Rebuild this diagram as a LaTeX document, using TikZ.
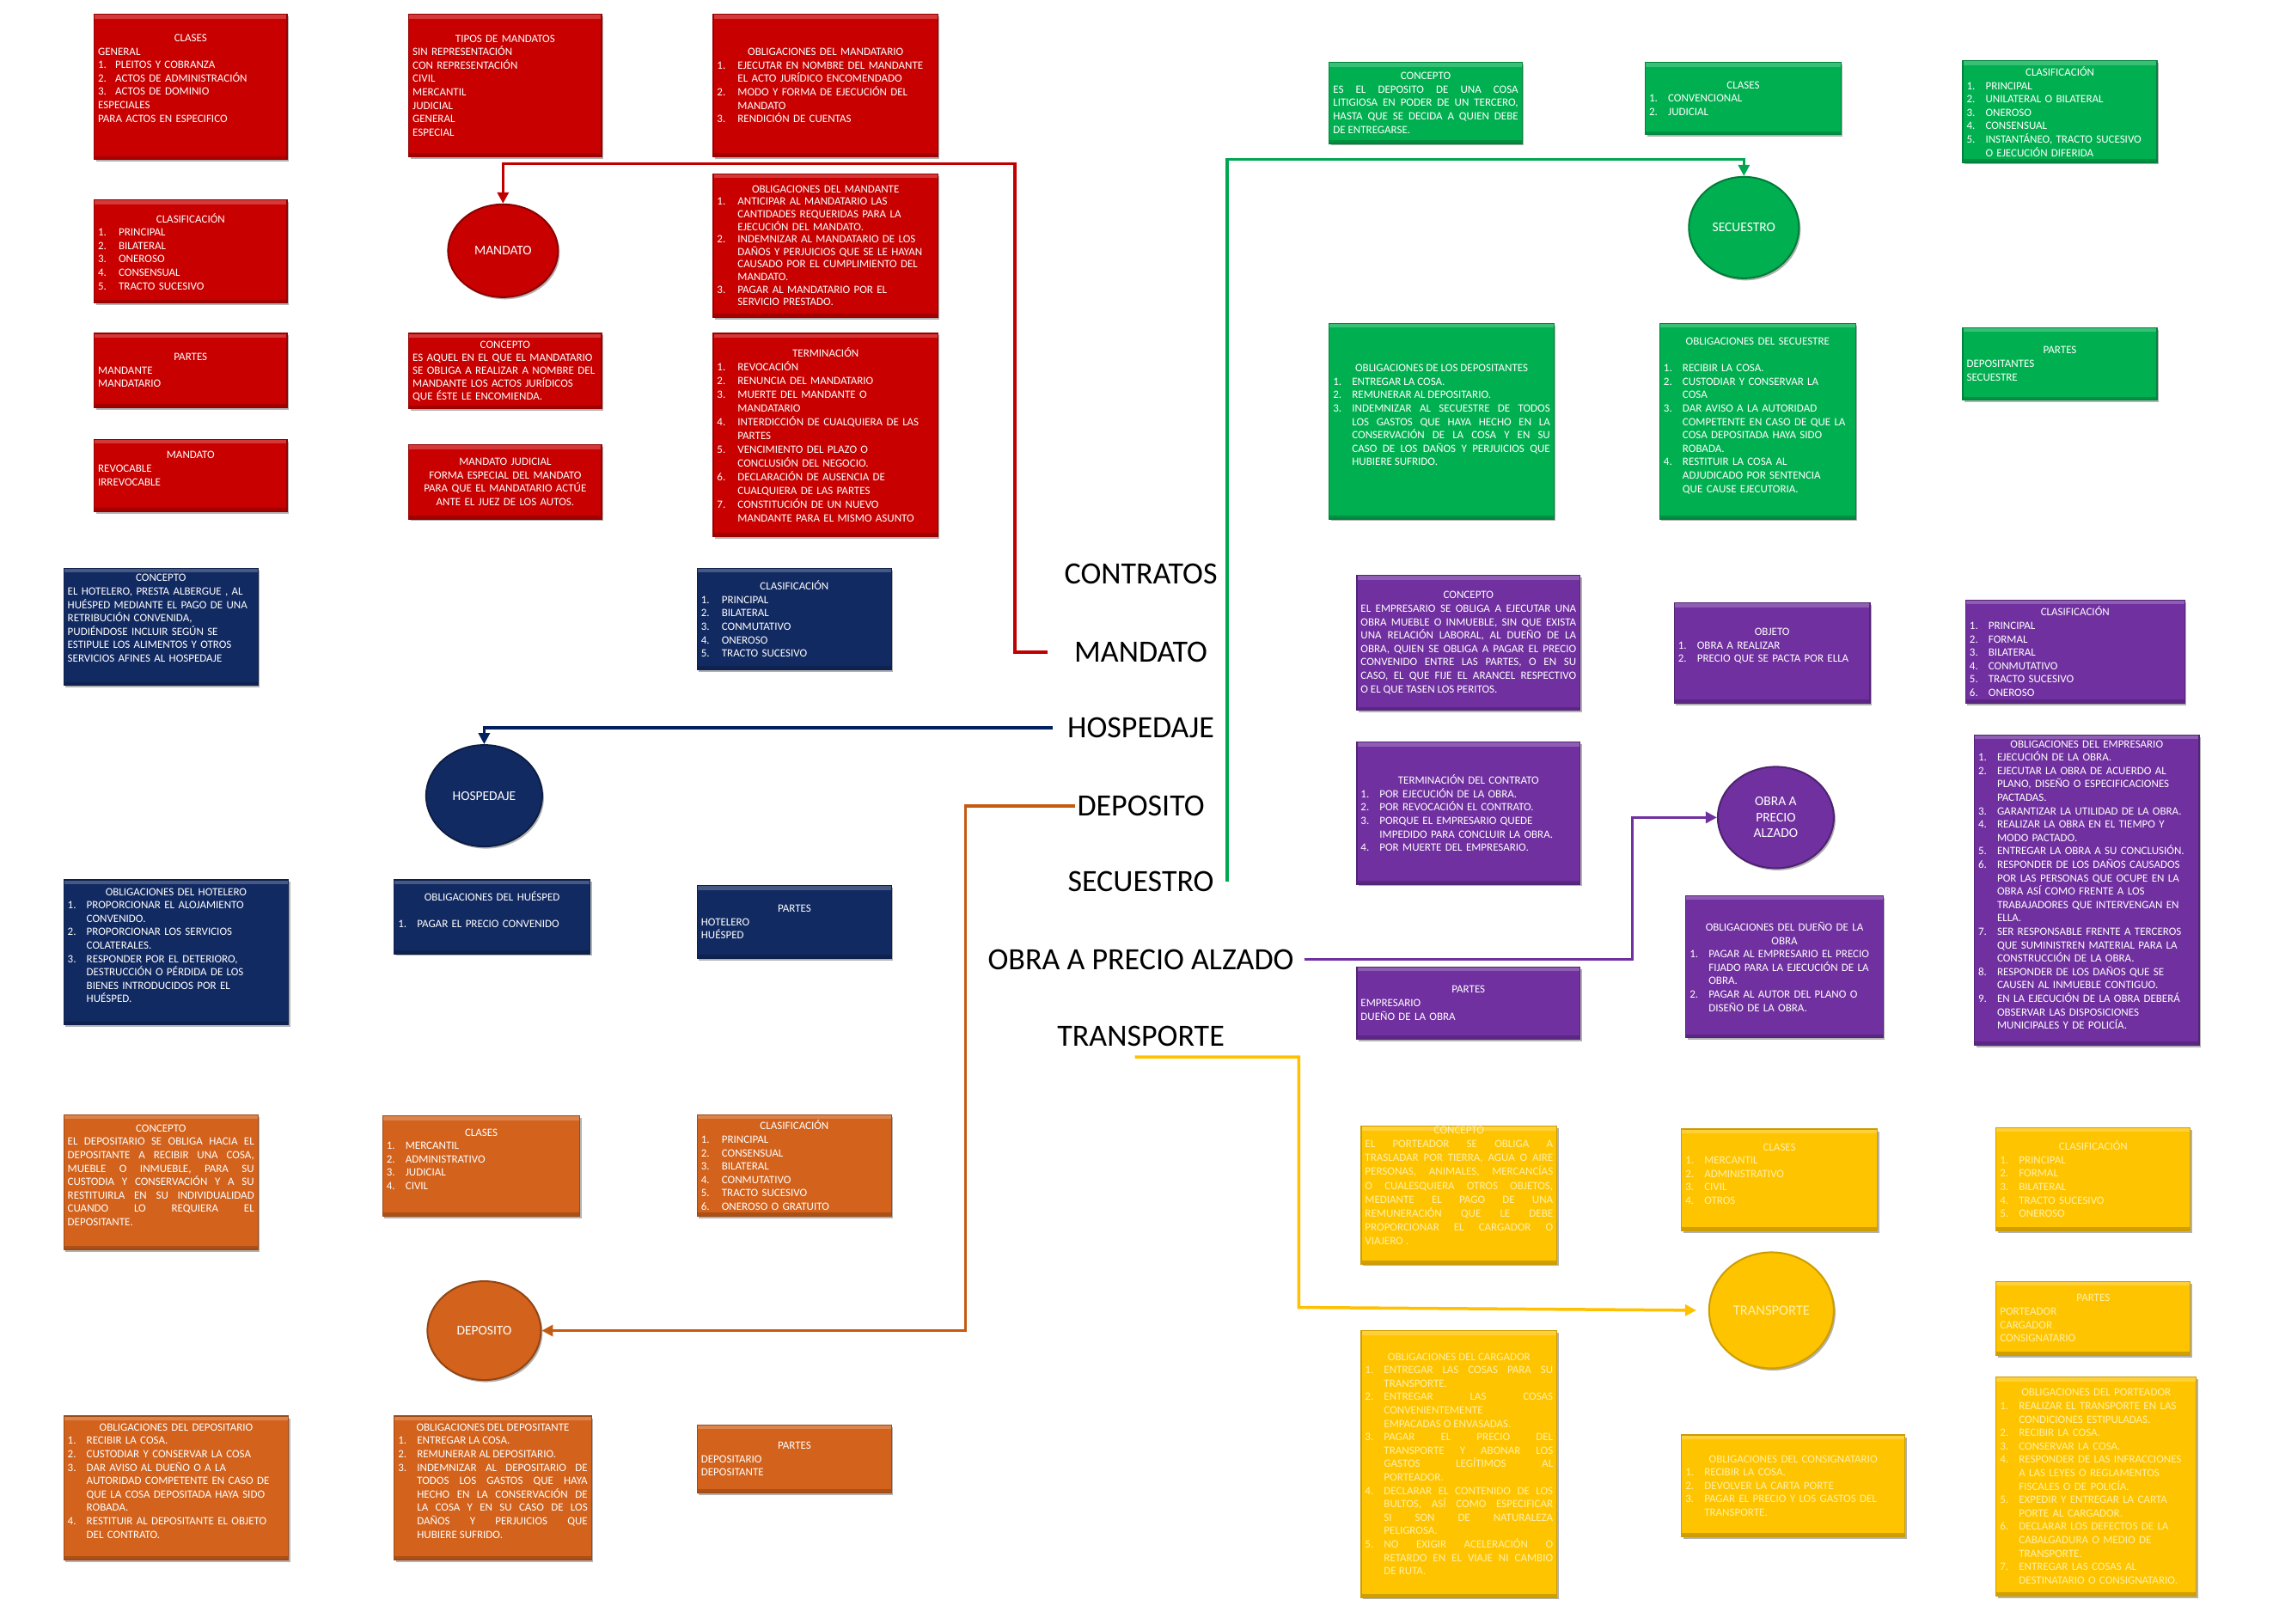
\documentclass[tikz,border=0pt]{standalone}
\usepackage{fontspec}
\setmainfont{Carlito}
\usetikzlibrary{fit,shapes.geometric,arrows.meta,shadows}
\definecolor{cRed}{RGB}{200,0,0}
\definecolor{cBlue}{RGB}{18,42,98}
\definecolor{cOra}{RGB}{210,98,28}
\definecolor{cGrn}{RGB}{0,176,80}
\definecolor{cPur}{RGB}{112,48,160}
\definecolor{cYel}{RGB}{255,196,0}
\definecolor{lRed}{RGB}{192,0,0}
\definecolor{lBlue}{RGB}{0,32,96}
\definecolor{lOra}{RGB}{197,90,17}
\definecolor{lGrn}{RGB}{0,166,80}
\definecolor{lPur}{RGB}{112,48,160}
\definecolor{lYel}{RGB}{255,192,0}
\definecolor{yTxt}{RGB}{255,240,170}
\hyphenpenalty=10000
\exhyphenpenalty=10000
\newlength\lind
\setlength\lind{22pt}
\newcommand\hd[1]{\leavevmode\hfill#1\hfill\null\par}
\newcommand\li[2]{\par\hangindent=\lind\hangafter=1\noindent\hbox to\lind{#1\hfil}#2\par}
\newcommand\bx[8][]{%
  \node[#2, fit={(#4,#5)(#6,#7)}] (#3) {};
  \pgfmathsetmacro\tw{(#6-#4)*1.6869-9}%
  \node[btxt, text width=\tw pt, #1] (#3t) at (#3.center) {#8};}
\tikzset{
  bxs/.style={rectangle, inner sep=0pt, line width=1.2pt,
    drop shadow={shadow xshift=2pt, shadow yshift=-2.5pt, opacity=0.3, fill=black},
    path picture={\fill[white,opacity=0.22] (path picture bounding box.north west) rectangle ([yshift=-5pt]path picture bounding box.north east);
      \fill[black,opacity=0.18] (path picture bounding box.south west) rectangle ([yshift=4pt]path picture bounding box.south east);}},
  rbox/.style={bxs, fill=cRed, draw=cRed!75!black},
  bbox/.style={bxs, fill=cBlue, draw=cBlue!75!black},
  obox/.style={bxs, fill=cOra, draw=cOra!75!black},
  gbox/.style={bxs, fill=cGrn, draw=cGrn!75!black},
  pbox/.style={bxs, fill=cPur, draw=cPur!75!black},
  ybox/.style={bxs, fill=cYel, draw=cYel!80!black},
  btxt/.style={inner sep=0pt, text=white, align=justify, font=\fontsize{13}{15.6}\selectfont},
  ytxt/.style={text=yTxt},
  ell/.style={ellipse, inner sep=0pt, line width=2pt, text=white, align=center,
    font=\fontsize{15.5}{18.5}\selectfont,
    drop shadow={shadow xshift=2pt, shadow yshift=-2.5pt, opacity=0.3, fill=black}},
  lab/.style={inner sep=0pt, text=black, font=\fontsize{36}{40}\selectfont},
  conn/.style={line width=3.5pt},
  arr/.style={-{Triangle[length=13pt,width=13pt]}},
}
\begin{document}
\begin{tikzpicture}[x=1.6869pt,y=-1.6869pt]
\useasboundingbox (0,0) rectangle (1568,1120);
\fill[white] (0,0) rectangle (1568,1120);

% ---------------- centre labels
\node[lab] (lCon) at (787,396) {CONTRATOS};
\node[lab] (lMan) at (787,450) {MANDATO};
\node[lab] (lHos) at (787,502) {HOSPEDAJE};
\node[lab] (lDep) at (787,556) {DEPOSITO};
\node[lab] (lSec) at (787,608) {SECUESTRO};
\node[lab] (lObr) at (787,662) {OBRA A PRECIO ALZADO};
\node[lab] (lTra) at (787,715) {TRANSPORTE};

% ---------------- MANDATO (red)
\bx[yshift=10pt,align=left]{rbox}{rClases}{65}{10}{198}{110}{\hd{CLASES}GENERAL\par
\setlength\lind{20pt}\li{1.}{PLEITOS Y COBRANZA}\li{2.}{ACTOS DE ADMINISTRACIÓN}\li{3.}{ACTOS DE DOMINIO}ESPECIALES\par PARA ACTOS EN ESPECIFICO}
\bx[align=left]{rbox}{rTipos}{282}{10}{415}{108}{\hd{TIPOS DE MANDATOS}SIN REPRESENTACIÓN\newline CON REPRESENTACIÓN\newline CIVIL\newline MERCANTIL\newline JUDICIAL\newline GENERAL\newline ESPECIAL}
\bx[align=left]{rbox}{rObMdt}{492}{10}{647}{108}{\hd{OBLIGACIONES DEL MANDATARIO}\setlength\lind{24pt}%
\li{1.}{EJECUTAR EN NOMBRE DEL MANDANTE\newline EL ACTO JURÍDICO ENCOMENDADO}\li{2.}{MODO Y FORMA DE EJECUCIÓN DEL\newline MANDATO}\li{3.}{RENDICIÓN DE CUENTAS}}
\bx[align=left]{rbox}{rClasif}{65}{138}{198}{209}{\hd{CLASIFICACIÓN}\setlength\lind{24pt}%
\li{1.}{PRINCIPAL}\li{2.}{BILATERAL}\li{3.}{ONEROSO}\li{4.}{CONSENSUAL}\li{5.}{TRACTO SUCESIVO}}
\node[ell, fill=cRed, draw=cRed!70!black, minimum width=128pt, minimum height=108pt] (eMan) at (347,173) {MANDATO};
\bx[align=left,font=\fontsize{13}{14.6}\selectfont]{rbox}{rObMte}{492}{120}{647}{219}{\hd{OBLIGACIONES DEL MANDANTE}\setlength\lind{24pt}%
\li{1.}{ANTICIPAR AL MANDATARIO LAS\newline CANTIDADES REQUERIDAS PARA LA\newline EJECUCIÓN DEL MANDATO.}\li{2.}{INDEMNIZAR AL MANDATARIO DE LOS\newline DAÑOS Y PERJUICIOS QUE SE LE HAYAN\newline CAUSADO POR EL CUMPLIMIENTO DEL\newline MANDATO.}\li{3.}{PAGAR AL MANDATARIO POR EL\newline SERVICIO PRESTADO.}}
\bx[align=left]{rbox}{rPartes}{65}{230}{198}{281}{\hd{PARTES}MANDANTE\newline MANDATARIO}
\bx[align=left,font=\fontsize{13}{15}\selectfont]{rbox}{rConc}{282}{230}{415}{282}{\hd{CONCEPTO}ES AQUEL EN EL QUE EL MANDATARIO\newline SE OBLIGA A REALIZAR A NOMBRE DEL\newline MANDANTE LOS ACTOS JURÍDICOS\newline QUE ÉSTE LE ENCOMIENDA.}
\bx[align=left,font=\fontsize{13}{16}\selectfont]{rbox}{rTerm}{492}{230}{647}{370}{\hd{TERMINACIÓN}\setlength\lind{24pt}%
\li{1.}{REVOCACIÓN}\li{2.}{RENUNCIA DEL MANDATARIO}\li{3.}{MUERTE DEL MANDANTE O\newline MANDATARIO}\li{4.}{INTERDICCIÓN DE CUALQUIERA DE LAS\newline PARTES}\li{5.}{VENCIMIENTO DEL PLAZO O\newline CONCLUSIÓN DEL NEGOCIO.}\li{6.}{DECLARACIÓN DE AUSENCIA DE\newline CUALQUIERA DE LAS PARTES}\li{7.}{CONSTITUCIÓN DE UN NUEVO\newline MANDANTE PARA EL MISMO ASUNTO}}
\bx[yshift=8pt,align=left]{rbox}{rMdt}{65}{303}{198}{353}{\hd{MANDATO}REVOCABLE\newline IRREVOCABLE}
\bx[align=center]{rbox}{rJud}{282}{307}{415}{358}{MANDATO JUDICIAL\\ FORMA ESPECIAL DEL MANDATO\\ PARA QUE EL MANDATARIO ACTÚE\\ ANTE EL JUEZ DE LOS AUTOS.}

% ---------------- HOSPEDAJE (blue)
\bx[yshift=10pt,align=left]{bbox}{bConc}{44}{392}{178}{473}{\hd{CONCEPTO}EL HOTELERO, PRESTA ALBERGUE , AL\newline HUÉSPED MEDIANTE EL PAGO DE UNA\newline RETRIBUCIÓN CONVENIDA,\newline PUDIÉNDOSE INCLUIR SEGÚN SE\newline ESTIPULE LOS ALIMENTOS Y OTROS\newline SERVICIOS AFINES AL HOSPEDAJE}
\bx[align=left]{bbox}{bClasif}{481}{392}{615}{462}{\hd{CLASIFICACIÓN}\setlength\lind{24pt}%
\li{1.}{PRINCIPAL}\li{2.}{BILATERAL}\li{3.}{CONMUTATIVO}\li{4.}{ONEROSO}\li{5.}{TRACTO SUCESIVO}}
\node[ell, fill=cBlue, draw=cBlue!70!black, minimum width=135pt, minimum height=118pt] (eHos) at (334,549) {HOSPEDAJE};
\bx[yshift=8pt,align=left]{bbox}{bObHot}{44}{607}{199}{707}{\hd{OBLIGACIONES DEL HOTELERO}%
\li{1.}{PROPORCIONAR EL ALOJAMIENTO\newline CONVENIDO.}\li{2.}{PROPORCIONAR LOS SERVICIOS\newline COLATERALES.}\li{3.}{RESPONDER POR EL DETERIORO,\newline DESTRUCCIÓN O PÉRDIDA DE LOS\newline BIENES INTRODUCIDOS POR EL\newline HUÉSPED.}}
\bx[yshift=8pt,align=left]{bbox}{bObHue}{272}{607}{407}{658}{\hd{OBLIGACIONES DEL HUÉSPED}\hd{\strut}%
\li{1.}{PAGAR EL PRECIO CONVENIDO}}
\bx[align=left]{bbox}{bPartes}{481}{611}{615}{661}{\hd{PARTES}HOTELERO\newline HUÉSPED}

% ---------------- DEPOSITO (orange)
\bx[yshift=8pt]{obox}{oConc}{44}{769}{178}{862}{\hd{CONCEPTO}EL DEPOSITARIO SE OBLIGA HACIA EL\linebreak DEPOSITANTE A RECIBIR UNA COSA,\linebreak MUEBLE O INMUEBLE, PARA SU\linebreak CUSTODIA Y CONSERVACIÓN Y A SU\linebreak RESTITUIRLA EN SU INDIVIDUALIDAD\linebreak CUANDO LO REQUIERA EL\linebreak DEPOSITANTE.}
\bx[yshift=8pt,align=left]{obox}{oClases}{264}{770}{400}{839}{\hd{CLASES}%
\li{1.}{MERCANTIL}\li{2.}{ADMINISTRATIVO}\li{3.}{JUDICIAL}\li{4.}{CIVIL}}
\bx[align=left]{obox}{oClasif}{481}{769}{615}{839}{\hd{CLASIFICACIÓN}\setlength\lind{24pt}%
\li{1.}{PRINCIPAL}\li{2.}{CONSENSUAL}\li{3.}{BILATERAL}\li{4.}{CONMUTATIVO}\li{5.}{TRACTO SUCESIVO}\li{6.}{ONEROSO O GRATUITO}}
\node[ell, fill=cOra, draw=cOra!70!black, minimum width=132pt, minimum height=115pt] (eDep) at (334,918) {DEPOSITO};
\bx[yshift=8pt,align=left]{obox}{oObDio}{44}{977}{199}{1076}{\hd{OBLIGACIONES DEL DEPOSITARIO}%
\li{1.}{RECIBIR LA COSA.}\li{2.}{CUSTODIAR Y CONSERVAR LA COSA}\li{3.}{DAR AVISO AL DUEÑO O A LA\newline AUTORIDAD COMPETENTE EN CASO DE\newline QUE LA COSA DEPOSITADA HAYA SIDO\newline ROBADA.}\li{4.}{RESTITUIR AL DEPOSITANTE EL OBJETO\newline DEL CONTRATO.}}
\bx[yshift=8pt]{obox}{oObDte}{272}{977}{408}{1076}{\hd{OBLIGACIONES DEL DEPOSITANTE}%
\li{1.}{ENTREGAR LA COSA.}\li{2.}{REMUNERAR AL DEPOSITARIO.}\li{3.}{INDEMNIZAR AL DEPOSITARIO DE\linebreak TODOS LOS GASTOS QUE HAYA\linebreak HECHO EN LA CONSERVACIÓN DE\linebreak LA COSA Y EN SU CASO DE LOS\linebreak DAÑOS Y PERJUICIOS QUE\linebreak HUBIERE SUFRIDO.}}
\bx[align=left]{obox}{oPartes}{481}{983}{615}{1030}{\hd{PARTES}DEPOSITARIO\newline DEPOSITANTE}

% ---------------- SECUESTRO (green)
\bx{gbox}{gConc}{917}{43}{1050}{99}{\hd{CONCEPTO}ES EL DEPOSITO DE UNA COSA\linebreak LITIGIOSA EN PODER DE UN TERCERO,\linebreak HASTA QUE SE DECIDA A QUIEN DEBE\linebreak DE ENTREGARSE.}
\bx[align=left]{gbox}{gClases}{1135}{43}{1270}{93}{\hd{CLASES}%
\li{1.}{CONVENCIONAL}\li{2.}{JUDICIAL}}
\bx[align=left]{gbox}{gClasif}{1354}{42}{1488}{112}{\hd{CLASIFICACIÓN}%
\li{1.}{PRINCIPAL}\li{2.}{UNILATERAL O BILATERAL}\li{3.}{ONEROSO}\li{4.}{CONSENSUAL}\li{5.}{INSTANTÁNEO, TRACTO SUCESIVO\newline O EJECUCIÓN DIFERIDA}}
\node[ell, fill=cGrn, draw=cGrn!70!black, minimum width=128pt, minimum height=118pt] (eSec) at (1203,157) {SECUESTRO};
\bx[yshift=7pt]{gbox}{gObDtes}{917}{223}{1072}{358}{\hd{OBLIGACIONES DE LOS DEPOSITANTES}%
\li{1.}{ENTREGAR LA COSA.}\li{2.}{REMUNERAR AL DEPOSITARIO.}\li{3.}{INDEMNIZAR AL SECUESTRE DE TODOS\linebreak LOS GASTOS QUE HAYA HECHO EN LA\linebreak CONSERVACIÓN DE LA COSA Y EN SU\linebreak CASO DE LOS DAÑOS Y PERJUICIOS QUE\linebreak HUBIERE SUFRIDO.}}
\bx[yshift=6pt,align=left]{gbox}{gObSec}{1145}{223}{1280}{358}{\hd{OBLIGACIONES DEL SECUESTRE}\hd{\strut}%
\li{1.}{RECIBIR LA COSA.}\li{2.}{CUSTODIAR Y CONSERVAR LA\newline COSA}\li{3.}{DAR AVISO A LA AUTORIDAD\newline COMPETENTE EN CASO DE QUE LA\newline COSA DEPOSITADA HAYA SIDO\newline ROBADA.}\li{4.}{RESTITUIR LA COSA AL\newline ADJUDICADO POR SENTENCIA\newline QUE CAUSE EJECUTORIA.}}
\bx[align=left]{gbox}{gPartes}{1354}{226}{1488}{276}{\hd{PARTES}DEPOSITANTES\newline SECUESTRE}

% ---------------- OBRA A PRECIO ALZADO (purple)
\bx{pbox}{pConc}{936}{397}{1090}{490}{\hd{CONCEPTO}EL EMPRESARIO SE OBLIGA A EJECUTAR UNA\linebreak OBRA MUEBLE O INMUEBLE, SIN QUE EXISTA\linebreak UNA RELACIÓN LABORAL, AL DUEÑO DE LA\linebreak OBRA, QUIEN SE OBLIGA A PAGAR EL PRECIO\linebreak CONVENIDO ENTRE LAS PARTES, O EN SU\linebreak CASO, EL QUE FIJE EL ARANCEL RESPECTIVO\linebreak O EL QUE TASEN LOS PERITOS.}
\bx[yshift=8pt,align=left]{pbox}{pObj}{1155}{416}{1290}{485}{\hd{OBJETO}%
\li{1.}{OBRA A REALIZAR}\li{2.}{PRECIO QUE SE PACTA POR ELLA}}
\bx[align=left]{pbox}{pClasif}{1356}{414}{1507}{485}{\hd{CLASIFICACIÓN}%
\li{1.}{PRINCIPAL}\li{2.}{FORMAL}\li{3.}{BILATERAL}\li{4.}{CONMUTATIVO}\li{5.}{TRACTO SUCESIVO}\li{6.}{ONEROSO}}
\bx[align=left]{pbox}{pTerm}{936}{512}{1090}{610}{\hd{TERMINACIÓN DEL CONTRATO}%
\li{1.}{POR EJECUCIÓN DE LA OBRA.}\li{2.}{POR REVOCACIÓN EL CONTRATO.}\li{3.}{PORQUE EL EMPRESARIO QUEDE\newline IMPEDIDO PARA CONCLUIR LA OBRA.}\li{4.}{POR MUERTE DEL EMPRESARIO.}}
\node[ell, fill=cPur, draw=cPur!70!black, minimum width=135pt, minimum height=118pt] (eObr) at (1225,564) {OBRA A\\ PRECIO\\ ALZADO};
\bx[align=left]{pbox}{pPartes}{936}{667}{1090}{717}{\hd{PARTES}EMPRESARIO\newline DUEÑO DE LA OBRA}
\bx[align=left]{pbox}{pObDue}{1163}{618}{1299}{716}{\hd{OBLIGACIONES DEL DUEÑO DE LA}\hd{OBRA}%
\li{1.}{PAGAR AL EMPRESARIO EL PRECIO\newline FIJADO PARA LA EJECUCIÓN DE LA\newline OBRA.}\li{2.}{PAGAR AL AUTOR DEL PLANO O\newline DISEÑO DE LA OBRA.}}
\bx[yshift=6pt,align=left]{pbox}{pObEmp}{1362}{507}{1517}{721}{\hd{OBLIGACIONES DEL EMPRESARIO}%
\li{1.}{EJECUCIÓN DE LA OBRA.}\li{2.}{EJECUTAR LA OBRA DE ACUERDO AL\newline PLANO, DISEÑO O ESPECIFICACIONES\newline PACTADAS.}\li{3.}{GARANTIZAR LA UTILIDAD DE LA OBRA.}\li{4.}{REALIZAR LA OBRA EN EL TIEMPO Y\newline MODO PACTADO.}\li{5.}{ENTREGAR LA OBRA A SU CONCLUSIÓN.}\li{6.}{RESPONDER DE LOS DAÑOS CAUSADOS\newline POR LAS PERSONAS QUE OCUPE EN LA\newline OBRA ASÍ COMO FRENTE A LOS\newline TRABAJADORES QUE INTERVENGAN EN\newline ELLA.}\li{7.}{SER RESPONSABLE FRENTE A TERCEROS\newline QUE SUMINISTREN MATERIAL PARA LA\newline CONSTRUCCIÓN DE LA OBRA.}\li{8.}{RESPONDER DE LOS DAÑOS QUE SE\newline CAUSEN AL INMUEBLE CONTIGUO.}\li{9.}{EN LA EJECUCIÓN DE LA OBRA DEBERÁ\newline OBSERVAR LAS DISPOSICIONES\newline MUNICIPALES Y DE POLICÍA.}}

% ---------------- TRANSPORTE (yellow)
\bx[ytxt,yshift=11pt,font=\fontsize{13}{16.2}\selectfont]{ybox}{yConc}{939}{777}{1074}{872}{\hd{CONCEPTO}EL PORTEADOR SE OBLIGA A\linebreak TRASLADAR POR TIERRA, AGUA O AIRE\linebreak PERSONAS, ANIMALES, MERCANCÍAS\linebreak O CUALESQUIERA OTROS OBJETOS,\linebreak MEDIANTE EL PAGO DE UNA\linebreak REMUNERACIÓN QUE LE DEBE\linebreak PROPORCIONAR EL CARGADOR O\linebreak VIAJERO .}
\bx[ytxt,yshift=7pt,align=left]{ybox}{yClases}{1160}{779}{1295}{849}{\hd{CLASES}%
\li{1.}{MERCANTIL}\li{2.}{ADMINISTRATIVO}\li{3.}{CIVIL}\li{4.}{OTROS}}
\bx[ytxt,align=left]{ybox}{yClasif}{1377}{778}{1511}{849}{\hd{CLASIFICACIÓN}%
\li{1.}{PRINCIPAL}\li{2.}{FORMAL}\li{3.}{BILATERAL}\li{4.}{TRACTO SUCESIVO}\li{5.}{ONEROSO}}
\node[ell, fill=cYel, draw=cYel!80!black, text=yTxt, font=\fontsize{16.5}{19}\selectfont, minimum width=145pt, minimum height=135pt] (eTra) at (1222,904) {TRANSPORTE};
\bx[ytxt,align=left]{ybox}{yPartes}{1377}{884}{1511}{935}{\hd{PARTES}PORTEADOR\newline CARGADOR\newline CONSIGNATARIO}
\bx[ytxt]{ybox}{yObCar}{939}{918}{1074}{1102}{\hd{OBLIGACIONES DEL CARGADOR}%
\li{1.}{ENTREGAR LAS COSAS PARA SU\linebreak TRANSPORTE.}\li{2.}{ENTREGAR LAS COSAS\linebreak CONVENIENTEMENTE\newline EMPACADAS O ENVASADAS.}\li{3.}{PAGAR EL PRECIO DEL\linebreak TRANSPORTE Y ABONAR LOS\linebreak GASTOS LEGÍTIMOS AL\linebreak PORTEADOR.}\li{4.}{DECLARAR EL CONTENIDO DE LOS\linebreak BULTOS, ASÍ COMO ESPECIFICAR\linebreak SI SON DE NATURALEZA\linebreak PELIGROSA.}\li{5.}{NO EXIGIR ACELERACIÓN O\linebreak RETARDO EN EL VIAJE NI CAMBIO\linebreak DE RUTA.}}
\bx[ytxt,align=left]{ybox}{yObCon}{1160}{990}{1314}{1060}{\hd{OBLIGACIONES DEL CONSIGNATARIO}%
\li{1.}{RECIBIR LA COSA.}\li{2.}{DEVOLVER LA CARTA PORTE}\li{3.}{PAGAR EL PRECIO Y LOS GASTOS DEL\newline TRANSPORTE.}}
\bx[ytxt,align=left]{ybox}{yObPor}{1377}{950}{1515}{1101}{\hd{OBLIGACIONES DEL PORTEADOR}%
\li{1.}{REALIZAR EL TRANSPORTE EN LAS\newline CONDICIONES ESTIPULADAS.}\li{2.}{RECIBIR LA COSA.}\li{3.}{CONSERVAR LA COSA.}\li{4.}{RESPONDER DE LAS INFRACCIONES\newline A LAS LEYES O REGLAMENTOS\newline FISCALES O DE POLICÍA.}\li{5.}{EXPEDIR Y ENTREGAR LA CARTA\newline PORTE AL CARGADOR.}\li{6.}{DECLARAR LOS DEFECTOS DE LA\newline CABALGADURA O MEDIO DE\newline TRANSPORTE.}\li{7.}{ENTREGAR LAS COSAS AL\newline DESTINATARIO O CONSIGNATARIO.}}

% ---------------- connectors
\coordinate (rS) at ([xshift=-31pt]lMan.west);
\coordinate (rC) at (700,113);
\draw[conn, lRed, arr] (rS) -| (rC) -| (eMan.north);
\coordinate (bS) at ([xshift=-17pt]lHos.west);
\draw[conn, lBlue, arr] (bS) -| (eHos.north);
\coordinate (oS) at ([xshift=-2pt]lDep.west);
\coordinate (oC) at (666,918);
\draw[conn, lOra, arr] (oS) -| (oC) -- (eDep.east);
\coordinate (gS) at ([xshift=15pt]lSec.east);
\coordinate (gC) at (1203,110);
\draw[conn, lGrn, arr] (gS) |- (gC) -- (eSec.north);
\coordinate (pS) at ([xshift=12pt]lObr.east);
\coordinate (pC) at (1126,564);
\draw[conn, lPur, arr] (pS) -| (pC) -- (eObr.west);
\coordinate (yS) at ([xshift=-7pt,yshift=-12pt]lTra.south);
\coordinate (yC) at (896,902);
\coordinate (yE) at ([xshift=-14pt]eTra.west);
\draw[conn, lYel, arr] (yS) -| (yC) -- (yE);
\end{tikzpicture}
\end{document}
